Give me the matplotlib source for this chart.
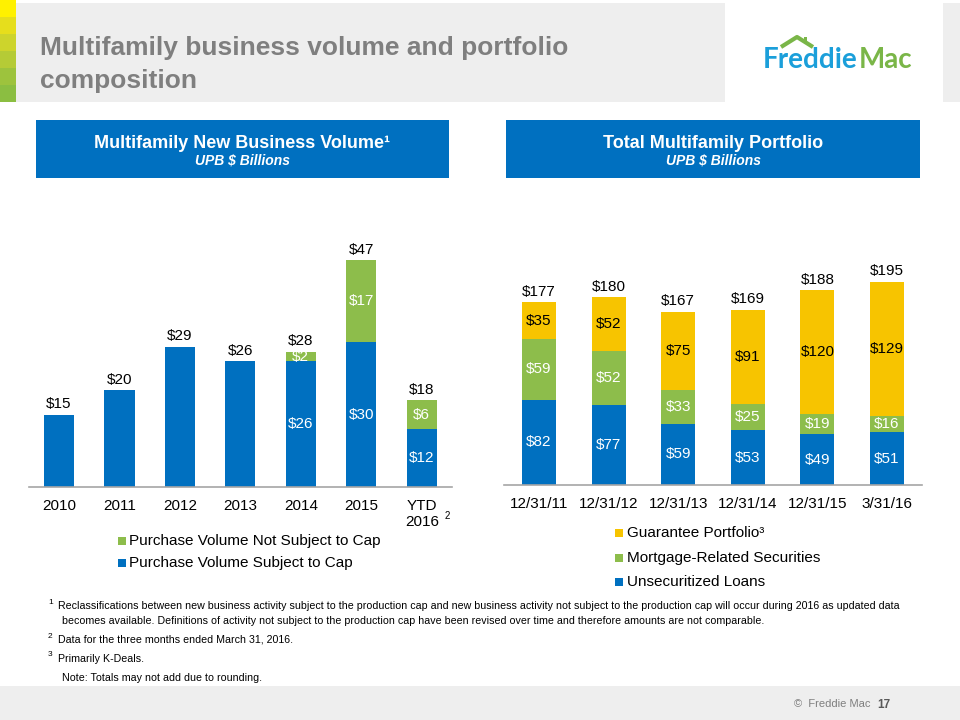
import matplotlib
matplotlib.use("Agg")
import matplotlib.pyplot as plt
from matplotlib.patches import Rectangle
import numpy as np

plt.rcParams['font.family'] = ['Liberation Sans', 'DejaVu Sans']

# --- DATA ---
years = ['2010', '2011', '2012', '2013', '2014', '2015', 'YTD\n2016']
subject_cap = [15, 20, 29, 26, 26, 30, 12]
not_subject_cap = [0, 0, 0, 0, 2, 17, 6]
volume_totals = [15, 20, 29, 26, 28, 47, 18]
volume_series = ['Purchase Volume Not Subject to Cap', 'Purchase Volume Subject to Cap']

dates = ['12/31/11', '12/31/12', '12/31/13', '12/31/14', '12/31/15', '3/31/16']
unsecuritized = [82, 77, 59, 53, 49, 51]
mortgage_sec = [59, 52, 33, 25, 19, 16]
guarantee = [35, 52, 75, 91, 120, 129]
portfolio_totals = [177, 180, 167, 169, 188, 195]
portfolio_series = ['Guarantee Portfolio\u00b3', 'Mortgage-Related Securities', 'Unsecuritized Loans']

footnotes = [
    ('1', ['Reclassifications between new business activity subject to the production cap and new business activity not subject to the production cap will occur during 2016 as updated data',
           'becomes available. Definitions of activity not subject to the production cap have been revised over time and therefore amounts are not comparable.']),
    ('2', ['Data for the three months ended March 31, 2016.']),
    ('3', ['Primarily K-Deals.']),
]

# --- COLOURS ---
BLUE = '#0070C0'
GREEN = '#8DBD4B'
YELLOW = '#F7C400'
GRAY_TXT = '#7F7F7F'
BAND = '#EEEEEE'

W, H = 960, 720
fig = plt.figure(figsize=(9.6, 7.2), dpi=100)

# background axes in pixel coords (origin top-left) for the slide decoration
bg = fig.add_axes([0, 0, 1, 1])
bg.set_xlim(0, W)
bg.set_ylim(H, 0)
bg.axis('off')


def px_axes(x0, y0, x1, y1):
    return fig.add_axes([x0 / W, 1 - y1 / H, (x1 - x0) / W, (y1 - y0) / H])


# top band, green strip, logo
bg.add_patch(Rectangle((16, 3), 709, 99, color=BAND, lw=0))
bg.add_patch(Rectangle((943, 3), 17, 99, color=BAND, lw=0))
strip = ['#FFF100', '#E6DE1C', '#CDD42C', '#B5CB36', '#9DC33D', '#8BBE41']
for i, c in enumerate(strip):
    bg.add_patch(Rectangle((0, i * 17), 16, 17, color=c, lw=0))

bg.text(40, 55, 'Multifamily business volume and portfolio', fontsize=19, fontweight='bold',
        color=GRAY_TXT, va='baseline')
bg.text(40, 88, 'composition', fontsize=19, fontweight='bold', color=GRAY_TXT, va='baseline')

bg.text(763, 68, 'Freddie', family=['Lato', 'DejaVu Sans'], fontsize=20, fontweight='bold',
        color='#1B9FDA', va='baseline')
bg.text(912, 68, 'Mac', family=['Lato', 'DejaVu Sans'], fontsize=20, fontweight='bold',
        color='#7AB648', va='baseline', ha='right')
bg.plot([781, 797, 813], [47, 37, 47], color='#7AB648', lw=3, solid_capstyle='butt')
bg.add_patch(Rectangle((804, 37), 3, 5, color='#7AB648', lw=0))

# header boxes
for (x0, x1), title in [((36, 449), 'Multifamily New Business Volume\u00b9'),
                        ((506, 920), 'Total Multifamily Portfolio')]:
    bg.add_patch(Rectangle((x0, 120), x1 - x0, 58, color=BLUE, lw=0))
    cx = (x0 + x1) / 2
    bg.text(cx, 143, title, fontsize=13, fontweight='bold', color='white', ha='center', va='center')
    bg.text(cx, 161, 'UPB $ Billions', fontsize=10, fontweight='bold', style='italic',
            color='white', ha='center', va='center')

# footer
bg.add_patch(Rectangle((0, 686), 960, 34, color=BAND, lw=0))
bg.text(870, 704, '\u00a9  Freddie Mac', fontsize=8, color=GRAY_TXT, va='center', ha='right')
bg.text(877, 705, '17', fontsize=8.5, fontweight='bold', color='#595959', va='center')

# footnotes
fy = [606, 640, 659]
for (mark, lines), y in zip(footnotes, fy):
    bg.text(48, y - 4, mark, fontsize=6, color='black', va='center')
    for k, line in enumerate(lines):
        bg.text(58 if k == 0 else 62, y + 15 * k, line, fontsize=7.7, color='black', va='center')
bg.text(62, 678, 'Note: Totals may not add due to rounding.', fontsize=7.7, color='black', va='center')


def style_axes(ax):
    ax.patch.set_visible(False)
    for s in ['top', 'left', 'right']:
        ax.spines[s].set_visible(False)
    ax.spines['bottom'].set_color('#A6A6A6')
    ax.spines['bottom'].set_linewidth(1.2)
    ax.set_yticks([])
    ax.tick_params(axis='x', length=0, pad=8.8, labelsize=11)


# --- LEFT CHART ---
ax1 = px_axes(28.75, 245.5, 452, 487)
x1 = np.arange(len(years))
ax1.bar(x1, subject_cap, width=0.5, color=BLUE)
ax1.bar(x1, not_subject_cap, width=0.5, bottom=subject_cap, color=GREEN)
ax1.set_xlim(-0.5, 6.5)
ax1.set_ylim(0, 50)
style_axes(ax1)
ax1.set_xticks(x1)
ax1.set_xticklabels(years)
for i in x1:
    top = subject_cap[i] + not_subject_cap[i]
    ax1.annotate(f'${volume_totals[i]}', (i, top), xytext=(0, 2.5), textcoords='offset points',
                 ha='center', va='bottom', fontsize=11)
    if not_subject_cap[i] > 0:
        ax1.text(i, subject_cap[i] / 2, f'${subject_cap[i]}', ha='center', va='center',
                 fontsize=11, color='white')
        ax1.text(i, subject_cap[i] + not_subject_cap[i] / 2, f'${not_subject_cap[i]}',
                 ha='center', va='center', fontsize=11, color='white')
bg.text(445, 516, '2', fontsize=7, va='center')

# left legend
for y, lab, col in [(541, volume_series[0], GREEN), (563, volume_series[1], BLUE)]:
    bg.add_patch(Rectangle((118, y - 4), 8, 8, color=col, lw=0))
    bg.text(129, y, lab, fontsize=11, va='center')

# --- RIGHT CHART ---
ax2 = px_axes(504.2, 277.6, 921.8, 485)
x2 = np.arange(len(dates))
bottom2 = np.array(unsecuritized) + np.array(mortgage_sec)
ax2.bar(x2, unsecuritized, width=0.49, color=BLUE)
ax2.bar(x2, mortgage_sec, width=0.49, bottom=unsecuritized, color=GREEN)
ax2.bar(x2, guarantee, width=0.49, bottom=bottom2, color=YELLOW)
ax2.set_xlim(-0.5, 5.5)
ax2.set_ylim(0, 200)
style_axes(ax2)
ax2.set_xticks(x2)
ax2.set_xticklabels(dates)
for i in x2:
    u, m, g = unsecuritized[i], mortgage_sec[i], guarantee[i]
    ax2.text(i, u / 2, f'${u}', ha='center', va='center', fontsize=11, color='white')
    ax2.text(i, u + m / 2, f'${m}', ha='center', va='center', fontsize=11, color='white')
    ax2.text(i, u + m + g / 2, f'${g}', ha='center', va='center', fontsize=11, color='black')
    ax2.annotate(f'${portfolio_totals[i]}', (i, u + m + g), xytext=(0, 2.5),
                 textcoords='offset points', ha='center', va='bottom', fontsize=11)

# right legend
for y, lab, col in [(533, portfolio_series[0], YELLOW), (558, portfolio_series[1], GREEN),
                    (582, portfolio_series[2], BLUE)]:
    bg.add_patch(Rectangle((615, y - 4), 8, 8, color=col, lw=0))
    bg.text(627, y, lab, fontsize=11, va='center')

fig.savefig('out.png', dpi=100)
